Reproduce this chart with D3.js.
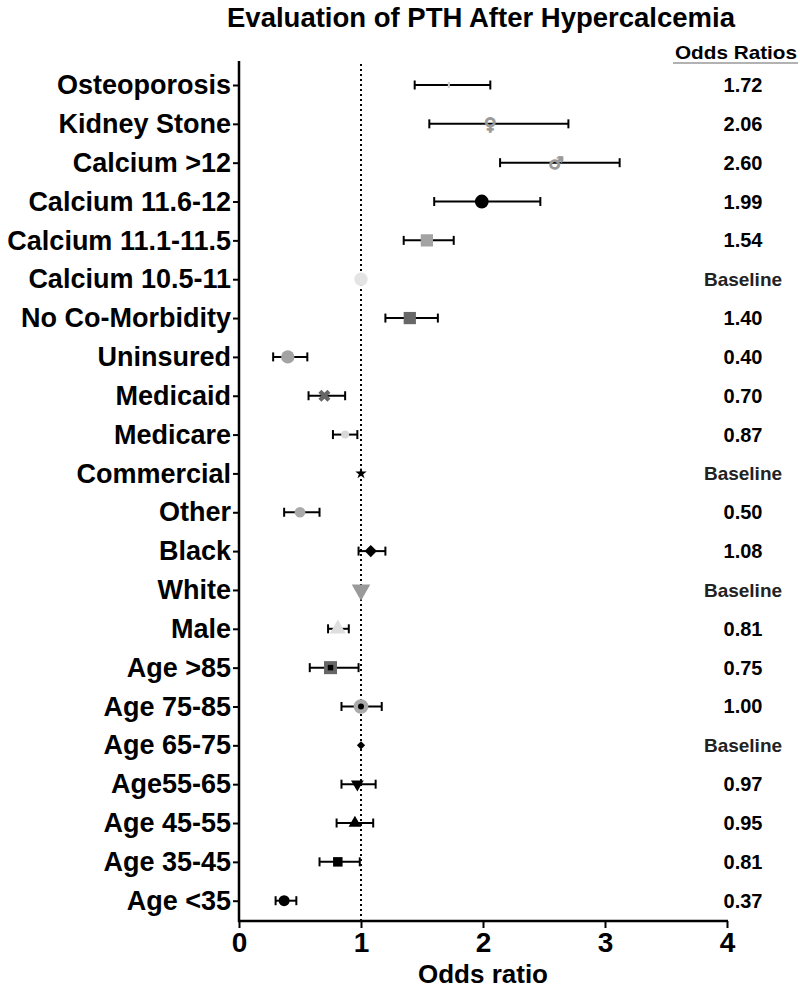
<!DOCTYPE html>
<html>
<head>
<meta charset="utf-8">
<script src="https://cdn.jsdelivr.net/npm/d3@7"></script>
<style>
  html, body { margin: 0; padding: 0; background: #fff; }
  svg { display: block; font-family: "Liberation Sans", Arial, sans-serif; }
</style>
</head>
<body>
<div id="chart"></div>
<script>
// ---- data ----
const categories = ["Osteoporosis", "Kidney Stone", "Calcium >12", "Calcium 11.6-12", "Calcium 11.1-11.5",
  "Calcium 10.5-11", "No Co-Morbidity", "Uninsured", "Medicaid", "Medicare", "Commercial", "Other",
  "Black", "White", "Male", "Age >85", "Age 75-85", "Age 65-75", "Age55-65", "Age 45-55", "Age 35-45", "Age <35"];
const oddsRatio = [1.72, 2.06, 2.60, 1.99, 1.54, 1.00, 1.40, 0.40, 0.70, 0.87, 1.00, 0.50,
  1.08, 1.00, 0.81, 0.75, 1.00, 1.00, 0.97, 0.95, 0.81, 0.37];
const ciLow = [1.44, 1.56, 2.14, 1.60, 1.35, null, 1.20, 0.28, 0.57, 0.77, null, 0.37,
  0.98, null, 0.73, 0.58, 0.84, null, 0.84, 0.80, 0.66, 0.30];
const ciHigh = [2.06, 2.70, 3.12, 2.47, 1.76, null, 1.63, 0.56, 0.87, 0.97, null, 0.66,
  1.20, null, 0.90, 0.98, 1.17, null, 1.12, 1.10, 0.99, 0.47];
const oddsLabels = ["1.72", "2.06", "2.60", "1.99", "1.54", "Baseline", "1.40", "0.40", "0.70", "0.87",
  "Baseline", "0.50", "1.08", "Baseline", "0.81", "0.75", "1.00", "Baseline", "0.97", "0.95", "0.81", "0.37"];
const xTicks = [0, 1, 2, 3, 4];
const referenceValue = 1;

// ---- marker styles (one per row) ----
const markerStyles = [
  {type: "tick", fill: "#cfcfcf"},
  {type: "glyph", text: "\u2640", fill: "#9a9a9a"},
  {type: "glyph", text: "\u2642", fill: "#9a9a9a"},
  {type: "circle", fill: "#000", size: 150},
  {type: "square", fill: "#a3a3a3", size: 150},
  {type: "circle", fill: "#e4e4e4", size: 140},
  {type: "square", fill: "#686868", size: 150},
  {type: "circle", fill: "#a3a3a3", size: 140},
  {type: "x", fill: "#666", size: 90},
  {type: "circle", fill: "#d8d8d8", size: 50},
  {type: "star", fill: "#000", size: 40},
  {type: "circle", fill: "#aaaaaa", size: 90},
  {type: "diamond", fill: "#000", size: 75},
  {type: "triangleDown", fill: "#9a9a9a", size: 150},
  {type: "triangle", fill: "#dedede", size: 110},
  {type: "square", fill: "#666", size: 170, inner: 30},
  {type: "circle", fill: "#aaaaaa", size: 170, innerDot: 3},
  {type: "diamond", fill: "#000", size: 34},
  {type: "triangleDown", fill: "#000", size: 70},
  {type: "triangle", fill: "#000", size: 70},
  {type: "square", fill: "#000", size: 90},
  {type: "circle", fill: "#000", size: 95}
];

const W = 800, H = 992;
const svg = d3.select("#chart").append("svg").attr("width", W).attr("height", H);

const x = d3.scaleLinear().domain([0, 4]).range([239, 727]);
const y = d3.scalePoint().domain(categories).range([85, 900.7]).padding(0);
const axisTop = 61, axisBottom = 921;

// title
svg.append("text")
  .attr("x", 481).attr("y", 27)
  .attr("text-anchor", "middle")
  .attr("font-size", 28).attr("font-weight", "bold")
  .attr("textLength", 508).attr("lengthAdjust", "spacingAndGlyphs")
  .text("Evaluation of PTH After Hypercalcemia");

// Odds Ratios header
svg.append("text")
  .attr("x", 736).attr("y", 59)
  .attr("text-anchor", "middle")
  .attr("font-size", 19).attr("font-weight", "bold")
  .attr("textLength", 122).attr("lengthAdjust", "spacingAndGlyphs")
  .text("Odds Ratios");
svg.append("line")
  .attr("x1", 673).attr("x2", 798).attr("y1", 63).attr("y2", 63)
  .attr("stroke", "#999").attr("stroke-width", 1.5);

// reference dotted line
svg.append("line")
  .attr("x1", x(referenceValue)).attr("x2", x(referenceValue))
  .attr("y1", axisTop + 3).attr("y2", axisBottom)
  .attr("stroke", "#000").attr("stroke-width", 2)
  .attr("stroke-dasharray", "2,3");

// y axis
const yAxis = svg.append("g").attr("transform", `translate(${x(0)},0)`)
  .call(d3.axisLeft(y).tickSize(6).tickPadding(2));
yAxis.select(".domain").remove();
yAxis.selectAll(".tick line").attr("stroke", "#000").attr("stroke-width", 2);
yAxis.selectAll(".tick text")
  .attr("font-size", 27).attr("font-weight", "bold").attr("fill", "#000")
  .attr("font-family", "Liberation Sans, Arial, sans-serif");
svg.append("line")
  .attr("x1", x(0)).attr("x2", x(0)).attr("y1", axisTop).attr("y2", axisBottom + 1)
  .attr("stroke", "#000").attr("stroke-width", 2.5);

// x axis
const xAxis = svg.append("g").attr("transform", `translate(0,${axisBottom})`)
  .call(d3.axisBottom(x).tickValues(xTicks).tickFormat(d3.format("d")).tickSize(7).tickPadding(4));
xAxis.select(".domain").remove();
xAxis.selectAll(".tick line").attr("stroke", "#000").attr("stroke-width", 2);
xAxis.selectAll(".tick text")
  .attr("font-size", 28).attr("font-weight", "bold").attr("fill", "#000")
  .attr("font-family", "Liberation Sans, Arial, sans-serif");
svg.append("line")
  .attr("x1", x(0) - 1).attr("x2", x(4) + 1).attr("y1", axisBottom).attr("y2", axisBottom)
  .attr("stroke", "#000").attr("stroke-width", 2.5);

svg.append("text")
  .attr("x", x(2)).attr("y", 983)
  .attr("text-anchor", "middle")
  .attr("font-size", 26).attr("font-weight", "bold")
  .text("Odds ratio");

// rows
const rows = categories.map((c, i) => ({
  cat: c, or: oddsRatio[i], lo: ciLow[i], hi: ciHigh[i], label: oddsLabels[i], m: markerStyles[i]
}));

const g = svg.append("g");
const capH = 4.5;
rows.forEach(r => {
  const cy = y(r.cat);
  const row = g.append("g");
  if (r.lo != null) {
    row.append("line").attr("x1", x(r.lo)).attr("x2", x(r.hi)).attr("y1", cy).attr("y2", cy)
      .attr("stroke", "#000").attr("stroke-width", 2);
    [r.lo, r.hi].forEach(v => row.append("line")
      .attr("x1", x(v)).attr("x2", x(v)).attr("y1", cy - capH).attr("y2", cy + capH)
      .attr("stroke", "#000").attr("stroke-width", 2));
  }
  const m = r.m, cx = x(r.or);
  const symMap = {circle: d3.symbolCircle, square: d3.symbolSquare, diamond: d3.symbolSquare,
    triangle: d3.symbolTriangle, triangleDown: d3.symbolTriangle, star: d3.symbolStar, x: d3.symbolCross};
  if (m.type === "tick") {
    row.append("rect").attr("x", cx - 1).attr("y", cy - 3).attr("width", 2).attr("height", 6).attr("fill", m.fill);
  } else if (m.type === "glyph") {
    row.append("text").attr("x", cx).attr("y", cy + 6).attr("text-anchor", "middle")
      .attr("font-family", "DejaVu Sans").attr("font-weight", "bold").attr("font-size", 17)
      .attr("fill", m.fill).attr("stroke", m.fill).attr("stroke-width", 1.2).text(m.text);
  } else {
    let rot = 0;
    if (m.type === "triangleDown") rot = 180;
    if (m.type === "x" || m.type === "diamond") rot = 45;
    row.append("path")
      .attr("d", d3.symbol().type(symMap[m.type]).size(m.size)())
      .attr("transform", `translate(${cx},${cy}) rotate(${rot})`)
      .attr("fill", m.fill);
    if (m.inner) {
      row.append("path").attr("d", d3.symbol().type(d3.symbolSquare).size(m.inner)())
        .attr("transform", `translate(${cx},${cy})`).attr("fill", "#000");
    }
    if (m.innerDot) {
      row.append("circle").attr("cx", cx).attr("cy", cy).attr("r", m.innerDot).attr("fill", "#000");
    }
  }
  // odds ratio label
  svg.append("text")
    .attr("x", 743).attr("y", cy + 7)
    .attr("text-anchor", "middle")
    .attr("font-size", r.label === "Baseline" ? 19 : 20).attr("font-weight", "bold")
    .attr("fill", r.label === "Baseline" ? "#222" : "#000")
    .text(r.label);
});
</script>
</body>
</html>
